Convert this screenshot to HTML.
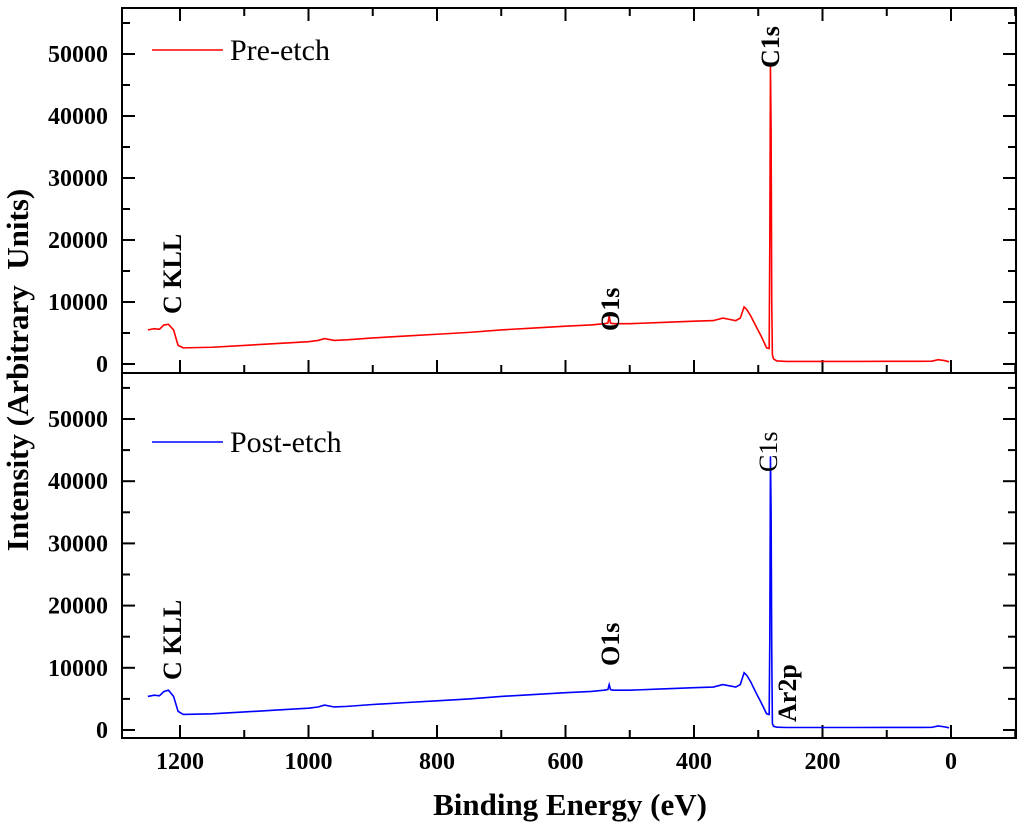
<!DOCTYPE html>
<html><head><meta charset="utf-8"><style>
body{margin:0;background:#fff}
svg{display:block;font-family:"Liberation Serif",serif}
</style></head><body>
<svg id="c" width="1024" height="826"></svg>
<script>
const xTicks=[1200,1000,800,600,400,200,0];
const yTicks=[0,10000,20000,30000,40000,50000];
const preE=[1250,1240,1232,1225,1218,1210,1203,1195,1150,1100,1050,1000,985,975,960,940,900,850,800,750,700,650,600,560,540,534,532,530,526,500,450,400,370,355,345,335,328,322,318,312,305,295,287,283,282,281,280,279,278,276,271,256,200,150,100,50,30,20,10,3];
const preI=[5500,5700,5600,6300,6400,5500,3000,2600,2700,3000,3300,3600,3800,4100,3800,3900,4200,4500,4800,5100,5500,5800,6100,6300,6500,6600,7700,6600,6500,6500,6700,6900,7000,7400,7200,7000,7400,9200,8800,7800,6400,4400,2600,2500,20000,48000,38000,10000,1500,800,500,420,420,420,430,430,450,700,550,350];
const postE=preE.slice();
const postI=[5400,5600,5500,6200,6400,5400,3000,2500,2600,2900,3200,3500,3700,4000,3700,3800,4100,4400,4700,5000,5400,5700,6000,6200,6400,6500,7300,6500,6400,6400,6600,6800,6900,7300,7100,6900,7300,9200,8800,7800,6300,4300,2600,2500,15000,44000,35000,13000,1000,600,450,400,400,400,410,410,420,650,500,350];
const svg=document.getElementById('c');const NS='http://www.w3.org/2000/svg';
function mk(t,a,p){const e=document.createElementNS(NS,t);for(const k in a)e.setAttribute(k,a[k]);(p||svg).appendChild(e);return e;}
const L=122,R=1016,T=8,M=373,B=738;
const X=v=>951-v*0.6425;
const Y1=v=>364-v*310/50000;
const Y2=v=>730-v*311/50000;
let f=mk('rect',{x:L,y:T,width:R-L,height:B-T,fill:'none',stroke:'#000','stroke-width':2});

let d=mk('line',{x1:L,x2:R,y1:M,y2:M,stroke:'#000','stroke-width':2});

for(let v=1200;v>=-100;v-=100){const x=X(v);if(x<L||x>R)continue;const maj=v%200===0;const len=maj?13:8;
 mk('line',{x1:x,x2:x,y1:B,y2:B-len,stroke:'#000','stroke-width':2});
 mk('line',{x1:x,x2:x,y1:T,y2:T+len,stroke:'#000','stroke-width':2});
 mk('line',{x1:x,x2:x,y1:M,y2:M-len,stroke:'#000','stroke-width':2});
}
xTicks.forEach(v=>{const t=mk('text',{x:X(v),y:769,'text-anchor':'middle','font-size':24,'font-weight':'bold'});t.textContent=v;
 });
[Y1,Y2].forEach((Y,pi)=>{
 for(let v=0;v<=55000;v+=5000){const y=Y(v);const maj=v%10000===0;const len=maj?13:8;
  mk('line',{x1:L,x2:L+len,y1:y,y2:y,stroke:'#000','stroke-width':2});
  mk('line',{x1:R,x2:R-len,y1:y,y2:y,stroke:'#000','stroke-width':2});}
 yTicks.forEach(v=>{const t=mk('text',{x:108,y:Y(v)+8,'text-anchor':'end','font-size':24,'font-weight':'bold'});t.textContent=v;
  });
});
function line(E,I,Y,col,name){const p=mk('polyline',{points:E.map((e,i)=>X(e)+','+Y(I[i])).join(' '),fill:'none',stroke:col,'stroke-width':1.6});
 }
line(preE,preI,Y1,'#f00','pre-etch-line');
line(postE,postI,Y2,'#00f','post-etch-line');
function txt(s,x,y,o){const t=mk('text',Object.assign({x:x,y:y},o));t.textContent=s;return t;}
function rot(s,x,y,bold,name){const t=mk('text',{x:0,y:0,transform:`translate(${x},${y}) rotate(-90)`,'font-size':26,'font-weight':bold?'bold':'normal'});t.textContent=s;
 }
rot('C KLL',181,314,true,'c-kll-label-top');
rot('O1s',619,331,true,'o1s-label-top');
rot('C1s',779,68,true,'c1s-label-top');
rot('C KLL',181,680,true,'c-kll-label-bottom');
rot('O1s',619,666,true,'o1s-label-bottom');
rot('C1s',777,472,false,'c1s-label-bottom');
rot('Ar2p',796,722,true,'ar2p-label');
let g=mk('line',{x1:152,x2:223,y1:50,y2:50,stroke:'#f00','stroke-width':1.6});
let lt=txt('Pre-etch',230,60,{'font-size':30});
g=mk('line',{x1:152,x2:223,y1:442,y2:442,stroke:'#00f','stroke-width':1.6});
lt=txt('Post-etch',230,452,{'font-size':30});
let xt=txt('Binding Energy (eV)',570,815,{'font-size':31,'font-weight':'bold','text-anchor':'middle'});

let yt=mk('text',{x:0,y:0,transform:'translate(28,370) rotate(-90)','font-size':31,'font-weight':'bold','text-anchor':'middle'});
yt.textContent='Intensity (Arbitrary\u00a0 Units)';

</script>
</body></html>
